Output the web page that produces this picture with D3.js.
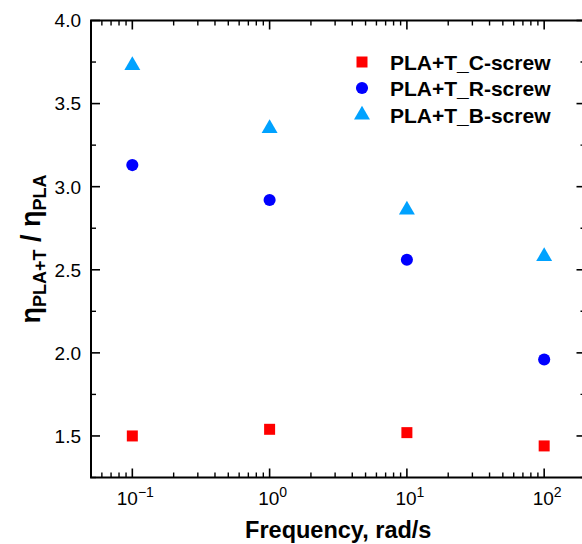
<!DOCTYPE html>
<html>
<head>
<meta charset="utf-8">
<script src="https://cdn.jsdelivr.net/npm/d3@7"></script>
<style>
  html, body { margin: 0; padding: 0; background: #fff; }
  svg { display: block; font-family: "Liberation Sans", Arial, sans-serif; }
</style>
</head>
<body>
<svg id="chart" width="582" height="544"></svg>
<script>
// ---- data ----
const frequencies = [0.1, 1, 10, 100];
const seriesNames = ["PLA+T_C-screw", "PLA+T_R-screw", "PLA+T_B-screw"];
const cScrew = [1.50, 1.54, 1.52, 1.44];
const rScrew = [3.13, 2.92, 2.56, 1.96];
const bScrew = [3.73, 3.35, 2.86, 2.58];
const yTickValues = [1.5, 2.0, 2.5, 3.0, 3.5, 4.0];
const xTickExponents = [-1, 0, 1, 2];
const seriesColors = ["#ff0000", "#0000ff", "#00a2ff"];
const seriesShapes = ["square", "circle", "triangle"];

const svg = d3.select("#chart");
const x = d3.scaleLog().domain([0.05, 200]).range([91, 585.5]);
const y = d3.scaleLinear().domain([1.25, 4.0]).range([477.5, 20.5]);

const axisColor = "#000";
const g = svg.append("g");

const xMajor = xTickExponents.map(e => Math.pow(10, e));
const xMinor = [];
for (let e = -2; e <= 2; e++) {
  for (let k = 2; k <= 9; k++) {
    const v = k * Math.pow(10, e);
    if (v > 0.05 && v < 200) xMinor.push(v);
  }
}
const yMinor = d3.range(1.25, 4.0001, 0.25).filter(v => Math.abs((v * 2) % 1) > 0.01);

function drawTicks() {
  const majorLen = 9, minorLen = 5;
  xMajor.forEach(v => {
    g.append("line").attr("x1", x(v)).attr("x2", x(v)).attr("y1", y.range()[0]).attr("y2", y.range()[0] - majorLen).attr("stroke", axisColor).attr("stroke-width", 1.6);
    g.append("line").attr("x1", x(v)).attr("x2", x(v)).attr("y1", y.range()[1]).attr("y2", y.range()[1] + majorLen).attr("stroke", axisColor).attr("stroke-width", 1.6);
  });
  xMinor.forEach(v => {
    g.append("line").attr("x1", x(v)).attr("x2", x(v)).attr("y1", y.range()[0]).attr("y2", y.range()[0] - minorLen).attr("stroke", axisColor).attr("stroke-width", 1.4);
    g.append("line").attr("x1", x(v)).attr("x2", x(v)).attr("y1", y.range()[1]).attr("y2", y.range()[1] + minorLen).attr("stroke", axisColor).attr("stroke-width", 1.4);
  });
  yTickValues.forEach(v => {
    g.append("line").attr("x1", x.range()[0]).attr("x2", x.range()[0] + majorLen).attr("y1", y(v)).attr("y2", y(v)).attr("stroke", axisColor).attr("stroke-width", 1.6);
    g.append("line").attr("x1", x.range()[1]).attr("x2", x.range()[1] - majorLen).attr("y1", y(v)).attr("y2", y(v)).attr("stroke", axisColor).attr("stroke-width", 1.6);
  });
  yMinor.forEach(v => {
    g.append("line").attr("x1", x.range()[0]).attr("x2", x.range()[0] + minorLen).attr("y1", y(v)).attr("y2", y(v)).attr("stroke", axisColor).attr("stroke-width", 1.4);
    g.append("line").attr("x1", x.range()[1]).attr("x2", x.range()[1] - minorLen).attr("y1", y(v)).attr("y2", y(v)).attr("stroke", axisColor).attr("stroke-width", 1.4);
  });
}
drawTicks();

g.append("rect")
  .attr("x", x.range()[0]).attr("y", y.range()[1])
  .attr("width", x.range()[1] - x.range()[0])
  .attr("height", y.range()[0] - y.range()[1])
  .attr("fill", "none").attr("stroke", axisColor).attr("stroke-width", 2);

g.selectAll("text.ylab").data(yTickValues).enter().append("text")
  .attr("class", "ylab")
  .attr("x", 81).attr("y", d => y(d))
  .attr("dy", "0.36em")
  .attr("text-anchor", "end")
  .attr("font-size", 19)
  .text(d => d.toFixed(1));

xTickExponents.forEach(e => {
  const t = g.append("text")
    .attr("x", x(Math.pow(10, e)) + 3)
    .attr("y", 505)
    .attr("text-anchor", "middle")
    .attr("font-size", 19);
  t.append("tspan").text("10");
  t.append("tspan").attr("dy", -8).attr("font-size", 14).text(e < 0 ? "\u2212" + Math.abs(e) : String(e));
});

svg.append("text")
  .attr("x", (x.range()[0] + x.range()[1]) / 2)
  .attr("y", 538)
  .attr("text-anchor", "middle")
  .attr("font-size", 23.5).attr("font-weight", "bold")
  .text("Frequency, rad/s");

const yt = svg.append("text")
  .attr("transform", `translate(40, ${(y.range()[0] + y.range()[1]) / 2}) rotate(-90)`)
  .attr("text-anchor", "middle")
  .attr("font-weight", "bold");
yt.append("tspan").attr("font-size", 27).text("\u03b7");
yt.append("tspan").attr("font-size", 18).attr("dy", 6).text("PLA+T");
yt.append("tspan").attr("font-size", 27).attr("dy", -6).text(" / \u03b7");
yt.append("tspan").attr("font-size", 18).attr("dy", 6).text("PLA");

const allSeries = [cScrew, rScrew, bScrew];
function symbolFor(shape) {
  if (shape === "square") return d3.symbol().type(d3.symbolSquare).size(121);
  if (shape === "circle") return d3.symbol().type(d3.symbolCircle).size(115);
  return d3.symbol().type(d3.symbolTriangle).size(110);
}
allSeries.forEach((vals, i) => {
  svg.append("g").selectAll("path").data(vals).enter().append("path")
    .attr("d", symbolFor(seriesShapes[i])())
    .attr("transform", (d, j) => `translate(${x(frequencies[j])},${y(d)})`)
    .attr("fill", seriesColors[i]);
});

const legendRows = [62, 88, 115];
seriesNames.forEach((name, i) => {
  svg.append("path")
    .attr("d", symbolFor(seriesShapes[i])())
    .attr("transform", `translate(362,${legendRows[i]})`)
    .attr("fill", seriesColors[i]);
  svg.append("text")
    .attr("x", 390).attr("y", legendRows[i])
    .attr("dy", "0.36em")
    .attr("font-size", 21).attr("font-weight", "bold")
    .text(name);
});
</script>
</body>
</html>
